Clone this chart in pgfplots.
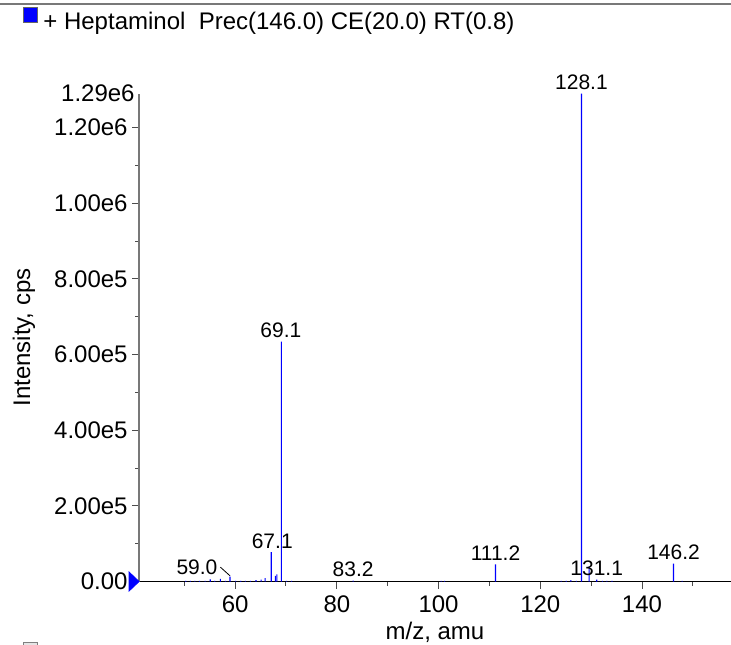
\documentclass[border=0pt]{standalone}
\usepackage{fontspec}
\setmainfont{Liberation Sans}
\usepackage{pgfplots}
\pgfplotsset{compat=1.18}
\definecolor{peakblue}{RGB}{0,0,255}
\definecolor{axisgray}{RGB}{120,120,120}

\begin{document}
\begin{tikzpicture}
\useasboundingbox (0pt,0pt) rectangle (365.5pt,-322pt);
% frame line and header
\draw[axisgray, line width=0.8pt] (0pt,-2pt) -- (365.5pt,-2pt);
\fill[peakblue, draw=black!60, line width=0.3pt] (11.5pt,-3.5pt) rectangle (18.5pt,-11pt);
\node[anchor=base west, inner sep=0pt, font=\fontsize{12}{14}\selectfont] at (21.5pt,-14.5pt)
  {+ Heptaminol\ \ Prec(146.0) CE(20.0) RT(0.8)};
\draw[fill=black!10, draw=black!50, line width=0.5pt] (11.5pt,-321.3pt) rectangle (18.5pt,-328pt);

\begin{axis}[
  at={(69.5pt,-290.75pt)}, anchor=south west,
  scale only axis, width=296pt, height=244pt,
  xmin=41.1, xmax=157.5, ymin=0, ymax=1290000,
  axis x line*=bottom, axis y line*=left,
  x axis line style={-, black, line width=0.6pt},
  y axis line style={-, axisgray, line width=0.6pt},
  clip=false,
  tick align=outside,
  major tick length=3.5pt, minor tick length=2pt,
  tick style={black!70, line width=0.5pt},
  scaled x ticks=false, scaled y ticks=false,
  xtick={60,80,100,120,140},
  xticklabels={60,80,100,120,140},
  minor xtick={50,70,90,110,130,150},
  ytick={0,200000,400000,600000,800000,1000000,1200000},
  yticklabels={0.00,2.00e5,4.00e5,6.00e5,8.00e5,1.00e6,1.20e6},
  minor ytick={100000,300000,500000,700000,900000,1100000},
  extra y ticks={1290000},
  extra y tick labels={1.29e6},
  extra y tick style={major tick length=0pt},
  tick label style={font=\fontsize{12}{14}\selectfont},
  yticklabel style={inner sep=2pt},
  xlabel={m/z, amu},
  ylabel={Intensity, cps},
  label style={font=\fontsize{12}{14}\selectfont},
  xlabel style={at={(axis description cs:0.5,-0.1035)}, anchor=center},
  ylabel style={at={(axis description cs:-0.1943,0.5)}, anchor=center},
]

% spectrum drawn as narrow filled bars
\addplot[ybar, bar width=0.55pt, fill=peakblue, draw=none, mark=none] coordinates {
  (50.3,2000) (51.2,1500) (52.1,1500) (53.0,2000) (54.1,1500)
  (55.1,6000) (56.0,1500) (57.1,7000) (58.1,2000) (59.0,13000)
  (60.1,1500) (61.1,1500) (62.0,2000) (63.0,2000) (64.1,4000)
  (65.1,5000) (65.9,9000) (67.1,78000) (67.9,15000) (68.2,19000)
  (69.1,634000) (70.1,2000) (71.1,1500) (83.2,2500)
  (100.5,1500) (101.2,2000) (111.2,45000)
  (124.1,1500) (125.1,2000) (126.0,4000) (127.1,2000)
  (128.1,1290000) (129.6,40000) (131.1,5000) (132.2,2000)
  (133.1,2000) (134.1,1500) (146.2,47000) (147.9,1500)
};

% blue marker at zero level
\addplot[only marks, mark=triangle*, mark size=3.33pt,
  mark options={rotate=-90, xscale=1.65, fill=peakblue, draw=peakblue}]
  coordinates {(39.8,0)};

% peak labels
\begin{scope}[every node/.style={anchor=base, inner sep=0pt, font=\fontsize{10.5}{12}\selectfont}]
\node[yshift=2pt] at (axis cs:128.1,1290000) {128.1};
\node[yshift=2pt] at (axis cs:69.0,634000) {69.1};
\node[yshift=2pt] at (axis cs:67.3,78000) {67.1};
\node[yshift=2pt] at (axis cs:83.2,2500) {83.2};
\node[yshift=2pt] at (axis cs:111.2,45000) {111.2};
\node[yshift=2pt] at (axis cs:131.1,5000) {131.1};
\node[yshift=2pt] at (axis cs:146.2,47000) {146.2};
\node at (axis cs:52.5,19800) {59.0};
\end{scope}
\draw[black, line width=0.4pt] (axis cs:57.1,38000) -- (axis cs:59.0,15000);

\end{axis}
\end{tikzpicture}
\end{document}
